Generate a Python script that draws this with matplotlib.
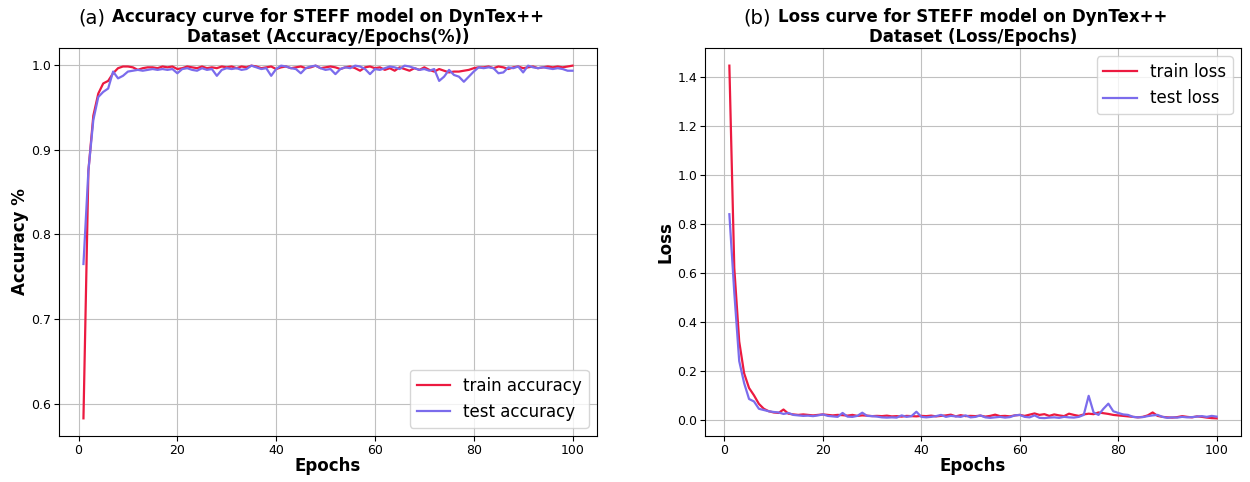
import matplotlib
matplotlib.use("Agg")
import matplotlib.pyplot as plt

# epochs 1..100
epochs = list(range(1, 101))

train_acc = [
    0.583, 0.875, 0.940, 0.966, 0.978, 0.981, 0.990, 0.996, 0.998, 0.998,
    0.997, 0.994, 0.996, 0.997, 0.997, 0.996, 0.998, 0.997, 0.998, 0.995,
    0.996, 0.998, 0.997, 0.996, 0.998, 0.996, 0.997, 0.996, 0.998, 0.997,
    0.998, 0.996, 0.998, 0.997, 0.999, 0.998, 0.996, 0.997, 0.998, 0.995,
    0.997, 0.998, 0.996, 0.997, 0.998, 0.996, 0.997, 0.999, 0.996, 0.997,
    0.998, 0.997, 0.995, 0.997, 0.998, 0.996, 0.993, 0.997, 0.998, 0.996,
    0.997, 0.994, 0.996, 0.993, 0.997, 0.995, 0.993, 0.996, 0.994, 0.997,
    0.994, 0.992, 0.995, 0.993, 0.991, 0.992, 0.992, 0.993, 0.994, 0.996,
    0.997, 0.997, 0.998, 0.996, 0.998, 0.997, 0.995, 0.997, 0.998, 0.996,
    0.997, 0.998, 0.996, 0.997, 0.998, 0.997, 0.998, 0.997, 0.998, 0.999,
]

test_acc = [
    0.765, 0.875, 0.935, 0.962, 0.968, 0.972, 0.992, 0.984, 0.987, 0.992,
    0.993, 0.994, 0.993, 0.994, 0.995, 0.994, 0.995, 0.994, 0.995, 0.990,
    0.995, 0.996, 0.994, 0.993, 0.996, 0.994, 0.995, 0.987, 0.994, 0.996,
    0.995, 0.996, 0.994, 0.995, 0.999, 0.997, 0.995, 0.996, 0.987, 0.995,
    0.999, 0.998, 0.996, 0.995, 0.990, 0.996, 0.998, 0.999, 0.996, 0.994,
    0.995, 0.989, 0.995, 0.997, 0.996, 0.999, 0.998, 0.995, 0.989, 0.995,
    0.994, 0.996, 0.998, 0.997, 0.995, 0.999, 0.998, 0.996, 0.994, 0.995,
    0.993, 0.995, 0.981, 0.986, 0.994, 0.988, 0.986, 0.980, 0.986, 0.992,
    0.997, 0.996, 0.997, 0.996, 0.990, 0.991, 0.997, 0.996, 0.998, 0.991,
    0.999, 0.997, 0.996, 0.997, 0.996, 0.995, 0.996, 0.995, 0.993, 0.993,
]

train_loss = [
    1.447, 0.620, 0.320, 0.190, 0.130, 0.100, 0.065, 0.045, 0.035, 0.030,
    0.028, 0.042, 0.025, 0.022, 0.020, 0.022, 0.020, 0.018, 0.020, 0.022,
    0.020, 0.018, 0.020, 0.019, 0.017, 0.020, 0.016, 0.018, 0.017, 0.015,
    0.016, 0.015, 0.017, 0.014, 0.015, 0.013, 0.016, 0.015, 0.014, 0.016,
    0.015, 0.017, 0.014, 0.016, 0.018, 0.021, 0.014, 0.019, 0.015, 0.016,
    0.015, 0.017, 0.013, 0.016, 0.021, 0.015, 0.016, 0.014, 0.018, 0.020,
    0.016, 0.021, 0.026, 0.020, 0.023, 0.016, 0.022, 0.018, 0.015, 0.025,
    0.020, 0.016, 0.022, 0.025, 0.023, 0.030, 0.027, 0.024, 0.020, 0.018,
    0.016, 0.014, 0.012, 0.010, 0.012, 0.018, 0.030, 0.016, 0.012, 0.010,
    0.009, 0.011, 0.015, 0.012, 0.010, 0.014, 0.012, 0.009, 0.007, 0.006,
]

test_loss = [
    0.840, 0.520, 0.240, 0.150, 0.085, 0.075, 0.045, 0.040, 0.035, 0.032,
    0.030, 0.024, 0.028, 0.020, 0.018, 0.016, 0.017, 0.015, 0.018, 0.022,
    0.016, 0.014, 0.012, 0.028, 0.013, 0.012, 0.016, 0.029, 0.016, 0.015,
    0.013, 0.010, 0.009, 0.010, 0.009, 0.018, 0.012, 0.015, 0.033, 0.012,
    0.010, 0.012, 0.015, 0.020, 0.012, 0.016, 0.014, 0.012, 0.018, 0.010,
    0.012, 0.018, 0.010, 0.008, 0.010, 0.012, 0.009, 0.011, 0.018, 0.020,
    0.012, 0.010, 0.018, 0.008, 0.007, 0.009, 0.010, 0.008, 0.012, 0.010,
    0.009, 0.012, 0.020, 0.098, 0.030, 0.020, 0.045, 0.066, 0.035, 0.028,
    0.022, 0.020, 0.012, 0.010, 0.011, 0.015, 0.018, 0.020, 0.012, 0.008,
    0.010, 0.009, 0.012, 0.010, 0.011, 0.013, 0.015, 0.012, 0.016, 0.013,
]

RED = "#ec1a40"
BLUE = "#7b6cec"

fig = plt.figure(figsize=(12.5, 4.82), dpi=100)
ax1 = fig.add_axes([0.0472, 0.0955, 0.4304, 0.8049])
ax2 = fig.add_axes([0.564, 0.0955, 0.4288, 0.8049])

# accuracy panel
ax1.plot(epochs, train_acc, color=RED, lw=1.6, label="train accuracy")
ax1.plot(epochs, test_acc, color=BLUE, lw=1.6, label="test accuracy")
ax1.set_title("Accuracy curve for STEFF model on DynTex++\nDataset (Accuracy/Epochs(%))",
              fontsize=12, fontweight="bold", pad=4)
ax1.set_xlabel("Epochs", fontsize=12, fontweight="bold", labelpad=0)
ax1.set_ylabel("Accuracy %", fontsize=12, fontweight="bold", labelpad=2)
ax1.set_yticks([0.6, 0.7, 0.8, 0.9, 1.0])
ax1.grid(True, color="#c0c0c0")
ax1.legend(loc="lower right", fontsize=12)

# loss panel
ax2.plot(epochs, train_loss, color=RED, lw=1.6, label="train loss")
ax2.plot(epochs, test_loss, color=BLUE, lw=1.6, label="test loss")
ax2.set_title("Loss curve for STEFF model on DynTex++\nDataset (Loss/Epochs)",
              fontsize=12, fontweight="bold", pad=4)
ax2.set_xlabel("Epochs", fontsize=12, fontweight="bold", labelpad=0)
ax2.set_ylabel("Loss", fontsize=12, fontweight="bold", labelpad=2)
ax2.grid(True, color="#c0c0c0")
ax2.legend(loc="upper right", fontsize=12)

for ax in (ax1, ax2):
    ax.tick_params(labelsize=9, pad=2)

# panel letters in regular weight
fig.text(0.084, 0.963, "(a)", fontsize=14, ha="right", va="center")
fig.text(0.617, 0.963, "(b)", fontsize=14, ha="right", va="center")

fig.savefig("out.png", dpi=100)
